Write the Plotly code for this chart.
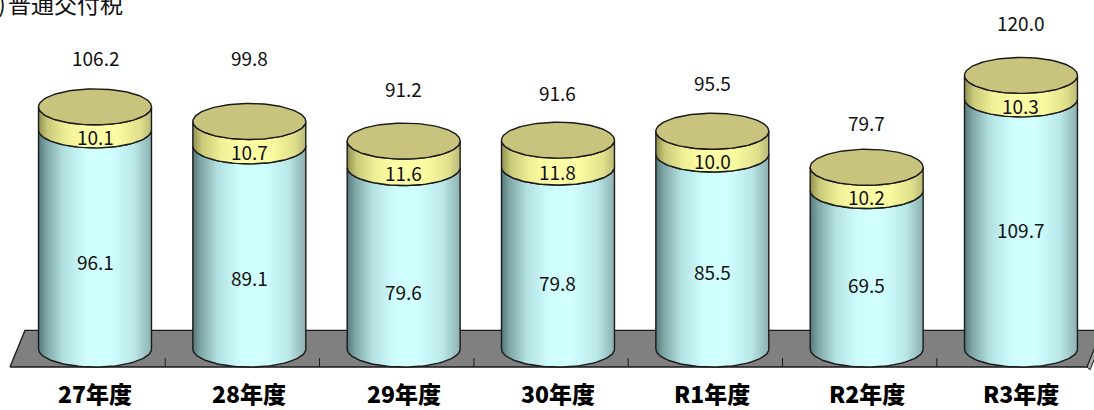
import numpy as np
import plotly.graph_objects as go

# ---------------- data ----------------
categories = ["27年度", "28年度", "29年度", "30年度", "R1年度", "R2年度", "R3年度"]
main_values = [96.1, 89.1, 79.6, 79.8, 85.5, 69.5, 109.7]    # lower (light blue) part
extra_values = [10.1, 10.7, 11.6, 11.8, 10.0, 10.2, 10.3]   # upper (yellow) part
total_values = [106.2, 99.8, 91.2, 91.6, 95.5, 79.7, 120.0]
title_text = "普通交付税"

# ---------------- layout / style constants ----------------
W, H = 1094, 410
PX_PER_UNIT_X = 154.33
PX_PER_UNIT_Y = 2.28
BASE_PX = 349.0            # pixel row of the zero level (ellipse centre plane)
FIRST_CENTER_PX = 95.0
x_lo = -FIRST_CENTER_PX / PX_PER_UNIT_X
x_hi = x_lo + W / PX_PER_UNIT_X
y_hi = BASE_PX / PX_PER_UNIT_Y
y_lo = (BASE_PX - H) / PX_PER_UNIT_Y

HALF_W = 0.366                     # cylinder half width (category units)
ELL_PX = 18.0                      # ellipse semi height in pixels
EH = ELL_PX / PX_PER_UNIT_Y        # in value units

# label nudges (pixels) – manual placement of the original
total_label_lift_px = [49, 64, 53, 48, 49, 45, 53]
main_label_drop_px = [4, 12, 15, 6, 2, -3, -12]

FONT = "Noto Sans CJK JP, Noto Sans, sans-serif"
OUTLINE = "#1a1a1a"

blue_scale = [[0.0, "#557878"], [0.07, "#7fa6a6"], [0.22, "#b3e0e0"],
              [0.42, "#cffcfc"], [0.62, "#d2ffff"], [0.85, "#b9e6e6"],
              [1.0, "#8db0b0"]]
yellow_scale = [[0.0, "#8f8f50"], [0.08, "#c9c97a"], [0.25, "#f0f097"],
                [0.45, "#ffffa8"], [0.7, "#fafaa0"], [0.9, "#e0e08c"],
                [1.0, "#b9b978"]]
top_color = "#c8c47e"
floor_color = "#808080"

fig = go.Figure()

# ---------------- floor ----------------
n = len(categories)
fx0 = -0.5 - 0.051
fx1 = (n - 0.5) - 0.072
skew = 0.097
floor_x = [fx0, fx1, fx1 + skew, fx0 + skew, fx0]
floor_y = [-EH, -EH, EH * 1.03, EH * 1.03, -EH]
fig.add_trace(go.Scatter(x=floor_x, y=floor_y, mode="lines", fill="toself",
                         fillcolor=floor_color,
                         line=dict(color=OUTLINE, width=1.3),
                         hoverinfo="skip", showlegend=False))
# thin lighter side strip at the right end of the floor
fig.add_trace(go.Scatter(x=[fx1, fx1 + skew, fx1 + skew + 0.02, fx1 + 0.02, fx1],
                         y=[-EH, EH * 1.03, EH * 1.03 - 1.2, -EH - 1.2, -EH],
                         mode="lines", fill="toself", fillcolor="#a6a6a6",
                         line=dict(color=OUTLINE, width=1),
                         hoverinfo="skip", showlegend=False))
# small tick marks on the front edge between categories
for k in range(n - 1):
    xt = k + 0.5 - 0.045
    fig.add_trace(go.Scatter(x=[xt, xt], y=[-EH, -EH + 9 / PX_PER_UNIT_Y],
                             mode="lines", line=dict(color=OUTLINE, width=1),
                             hoverinfo="skip", showlegend=False))

# ---------------- cylinders ----------------
theta_lo = np.linspace(np.pi, 0, 60)   # left -> right along lower half
theta_hi = np.linspace(0, np.pi, 60)   # right -> left along lower half


def front_face(xc, y0, y1):
    xs = np.concatenate([xc + HALF_W * np.cos(theta_lo), xc + HALF_W * np.cos(theta_hi)])
    ys = np.concatenate([y0 - EH * np.sin(theta_lo), y1 - EH * np.sin(theta_hi)])
    return np.append(xs, xs[0]), np.append(ys, ys[0])


for i, cat in enumerate(categories):
    b = main_values[i]
    t = extra_values[i]
    s = b + t
    # body
    xs, ys = front_face(i, 0.0, b)
    fig.add_trace(go.Scatter(x=xs, y=ys, mode="lines", fill="toself",
                             fillgradient=dict(type="horizontal", colorscale=blue_scale),
                             line=dict(color=OUTLINE, width=1.4),
                             hoverinfo="skip", showlegend=False))
    # yellow band
    xs, ys = front_face(i, b, s)
    fig.add_trace(go.Scatter(x=xs, y=ys, mode="lines", fill="toself",
                             fillgradient=dict(type="horizontal", colorscale=yellow_scale),
                             line=dict(color=OUTLINE, width=1.4),
                             hoverinfo="skip", showlegend=False))
    # top ellipse
    th = np.linspace(0, 2 * np.pi, 120)
    fig.add_trace(go.Scatter(x=i + HALF_W * np.cos(th), y=s + EH * np.sin(th),
                             mode="lines", fill="toself", fillcolor=top_color,
                             line=dict(color=OUTLINE, width=1.4),
                             hoverinfo="skip", showlegend=False))

# ---------------- labels ----------------
ann = []
for i, cat in enumerate(categories):
    b = main_values[i]
    t = extra_values[i]
    s = b + t
    ann.append(dict(x=i, y=s, text=f"{total_values[i]:.1f}", showarrow=False,
                    yshift=total_label_lift_px[i], xanchor="center", yanchor="middle",
                    font=dict(family=FONT, size=19, color="#111111")))
    ann.append(dict(x=i, y=b / 2, text=f"{b:.1f}", showarrow=False,
                    yshift=-(ELL_PX + main_label_drop_px[i]), xanchor="center", yanchor="middle",
                    font=dict(family=FONT, size=19, color="#111111")))
    ann.append(dict(x=i, y=b + t / 2, text=f"{t:.1f}", showarrow=False,
                    yshift=-ELL_PX, xanchor="center", yanchor="middle",
                    font=dict(family=FONT, size=19, color="#111111")))
    ann.append(dict(x=i, y=-EH, text=cat, showarrow=False,
                    yshift=-26, xanchor="center", yanchor="middle",
                    font=dict(family=FONT, size=23, color="#000000", weight=900)))

# title (top-left, partly cut off as in the original)
ann.append(dict(xref="paper", yref="paper", x=0, y=1, xshift=6, yshift=-3,
                text=title_text, showarrow=False, xanchor="left", yanchor="middle",
                font=dict(family=FONT, size=23, color="#111111")))
ann.append(dict(xref="paper", yref="paper", x=0, y=1, xshift=8, yshift=-3,
                text=")", showarrow=False, xanchor="right", yanchor="middle",
                font=dict(family=FONT, size=23, color="#111111")))

fig.update_layout(
    width=W, height=H, autosize=False,
    margin=dict(l=0, r=0, t=0, b=0),
    paper_bgcolor="white", plot_bgcolor="white",
    xaxis=dict(range=[x_lo, x_hi], visible=False, fixedrange=True),
    yaxis=dict(range=[y_lo, y_hi], visible=False, fixedrange=True),
    annotations=ann,
    showlegend=False,
)

fig.write_html("out.html")
